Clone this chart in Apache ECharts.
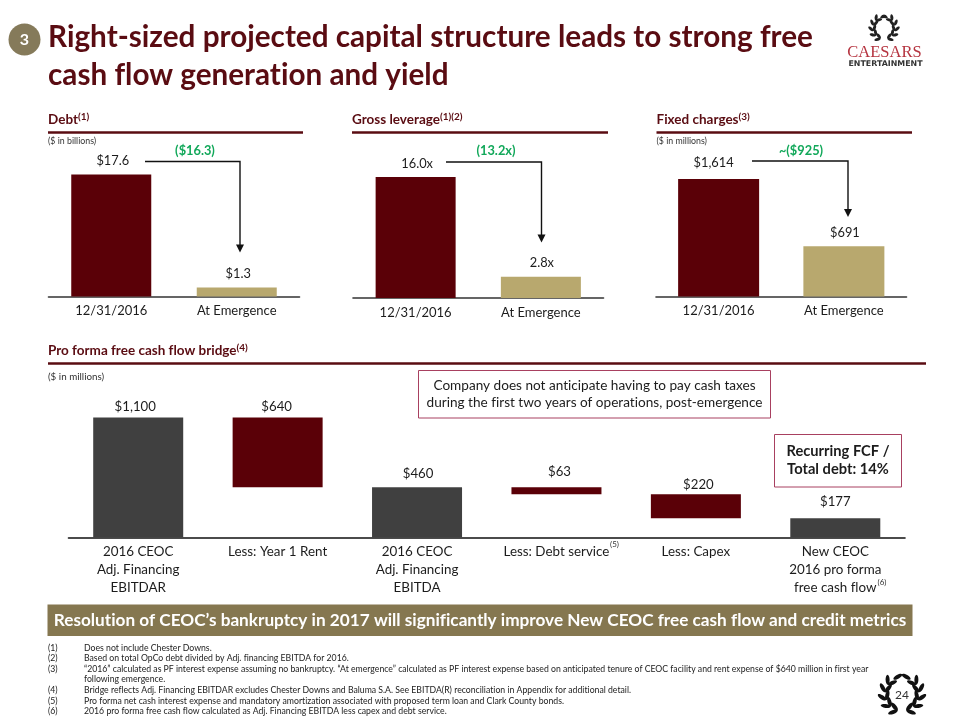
<!DOCTYPE html>
<html>
<head>
<meta charset="utf-8">
<style>html,body{margin:0;padding:0;background:#fff}#c{width:960px;height:720px}</style>
<script src="https://cdn.jsdelivr.net/npm/echarts@6/dist/echarts.min.js"></script>
</head>
<body>
<div id="c"></div>
<script>
// ---- data ----
const panelCategories = ['12/31/2016', 'At Emergence'];
const debtValues = [17.6, 1.3];
const leverageValues = [16.0, 2.8];
const fixedChargeValues = [1614, 691];
const bridgeCategories = ['2016 CEOC\nAdj. Financing\nEBITDAR', 'Less: Year 1 Rent', '2016 CEOC\nAdj. Financing\nEBITDA', 'Less: Debt service', 'Less: Capex', 'New CEOC\n2016 pro forma\nfree cash flow'];
const bridgeValues = [1100, 640, 460, 63, 220, 177];
const bridgeBase = [0, 460, 0, 397, 177, 0];
const bridgeKinds = ['total', 'less', 'total', 'less', 'less', 'total'];
const footnoteMarks = ['(1)', '(2)', '(3)', '', '(4)', '(5)', '(6)'];
const footnoteTexts = [
  'Does not include Chester Downs.',
  'Based on total OpCo debt divided by Adj. financing EBITDA for 2016.',
  '\u201C2016\u201D calculated as PF interest expense assuming no bankruptcy. \u201CAt emergence\u201D calculated as PF interest expense based on anticipated tenure of CEOC facility and rent expense of $640 million in first year',
  'following emergence.',
  'Bridge reflects Adj. Financing EBITDAR excludes Chester Downs and Baluma S.A. See EBITDA(R) reconciliation in Appendix for additional detail.',
  'Pro forma net cash interest expense and mandatory amortization associated with proposed term loan and Clark County bonds.',
  '2016 pro forma free cash flow calculated as Adj. Financing EBITDA less capex and debt service.'
];

// Lato's "ti"/"fi" ligatures do not appear in the reference: turn them off on every canvas.
const origGetContext = HTMLCanvasElement.prototype.getContext;
HTMLCanvasElement.prototype.getContext = function () {
  const ctx = origGetContext.apply(this, arguments);
  if (ctx && 'textRendering' in ctx) ctx.textRendering = 'optimizeSpeed';
  return ctx;
};

// ---- style ----
const FONT = 'Lato, "Noto Sans", sans-serif';
const MAROON = '#5a0007', TAN = '#b8a86e', GREY = '#404040', BANNER = '#857750', INK = '#1c1c1c', TITLE = '#5a0c12', GREEN = '#12a85a', BOX = '#a84060';

function panel(i, left, width, baseline, height, max, values, fmt, barW, offsets) {
  return {
    grid: {left, width, top: baseline - height, height},
    xAxis: {type: 'category', gridIndex: i, data: panelCategories,
      axisTick: {show: false}, axisLine: {lineStyle: {color: '#333', width: 1.6}},
      axisLabel: {fontFamily: FONT, fontSize: 13, color: INK, margin: 8, interval: 0}},
    yAxis: {type: 'value', gridIndex: i, min: 0, max, show: false, splitLine: {show: false}},
    series: {type: 'bar', xAxisIndex: i, yAxisIndex: i, barWidth: barW,
      data: values.map((v, k) => ({value: v, itemStyle: {color: k === 0 ? MAROON : TAN},
        label: {offset: offsets[k]}})),
      label: {show: true, position: 'top', distance: 7, formatter: p => fmt(p.value), fontFamily: FONT, fontSize: 12.8, color: INK}}
  };
}
const panels = [
  panel(0, 48.5, 251, 296.5, 138.6, 20, debtValues, v => '$' + v.toFixed(1), 80, [[1.5, 0], [1.5, 0]]),
  panel(1, 353, 250.5, 298, 151.2, 20, leverageValues, v => v.toFixed(1) + 'x', 80, [[1.5, 0], [1, 0]]),
  panel(2, 656, 250.5, 296.5, 145.6, 2000, fixedChargeValues, v => '$' + v.toLocaleString('en-US'), 81, [[-5, -3], [1, 0]])
];

const bridgeOffsets = [[-3, 2.5], [-1, 2.5], [1, 0], [3, -2.5], [2.5, 4.5], [0, -3]];
const grids = panels.map(p => p.grid).concat([{left: 68.5, width: 836.5, top: 537.5 - 130.9, height: 130.9}]);
const xAxes = panels.map(p => p.xAxis).concat([{type: 'category', gridIndex: 3, data: bridgeCategories,
  axisTick: {show: false}, axisLine: {lineStyle: {color: '#111', width: 1.6}},
  axisLabel: {fontFamily: FONT, fontSize: 13.4, lineHeight: 18, color: INK, margin: 5, interval: 0, verticalAlign: 'top'}}]);
const yAxes = panels.map(p => p.yAxis).concat([{type: 'value', gridIndex: 3, min: 0, max: 1200, show: false, splitLine: {show: false}}]);
const series = panels.map(p => p.series).concat([
  {type: 'bar', xAxisIndex: 3, yAxisIndex: 3, stack: 'bridge', barWidth: 90, silent: true,
   itemStyle: {color: 'transparent'}, data: bridgeBase},
  {type: 'bar', xAxisIndex: 3, yAxisIndex: 3, stack: 'bridge', barWidth: 90,
   data: bridgeValues.map((v, k) => ({value: v, itemStyle: {color: bridgeKinds[k] === 'total' ? GREY : MAROON},
     label: {offset: bridgeOffsets[k]}})),
   label: {show: true, position: 'top', distance: 7, formatter: p => '$' + p.value.toLocaleString('en-US'), fontFamily: FONT, fontSize: 13.2, color: INK}}
]);

// ---- annotations ----
const g = [];
function txt(text, x, y, size, fill, weight, align, family) {
  g.push({type: 'text', silent: true, style: {text, x, y, fill, align: align || 'left', verticalAlign: 'middle',
    font: (weight || 'normal') + ' ' + size + 'px ' + (family || FONT)}});
}
function line(x1, y1, x2, y2, color, w) {
  g.push({type: 'line', silent: true, shape: {x1, y1, x2, y2}, style: {stroke: color, lineWidth: w}});
}
function header(label, sup, x, y, size, x2, ly) {
  g.push({type: 'text', silent: true, style: {text: '{b|' + label + '}{s|' + sup + '}', x, y, verticalAlign: 'middle', align: 'left',
    rich: {b: {fontFamily: FONT, fontWeight: 'bold', fontSize: size, fill: TITLE, color: TITLE},
           s: {fontFamily: FONT, fontWeight: 'bold', fontSize: size * 0.74, fill: TITLE, color: TITLE, padding: [0, 0, 7, 0]}}}});
  line(x, ly, x2, ly, TITLE, 2.4);
}
function arrow(x1, y, x2, y2) {
  g.push({type: 'polyline', silent: true, shape: {points: [[x1, y], [x2, y], [x2, y2 - 7]]}, style: {stroke: '#111', lineWidth: 1.4, fill: null}});
  g.push({type: 'polygon', silent: true, shape: {points: [[x2 - 4, y2 - 8], [x2 + 4, y2 - 8], [x2, y2]]}, style: {fill: '#111'}});
}
function laurel(cx, cy, r, from, to, n, len, wid, color) {
  [-1, 1].forEach(side => {
    for (let i = 0; i < n; i++) {
      const th = (from + (to - from) * i / (n - 1)) * Math.PI / 180;
      const px = cx + side * r * Math.sin(th), py = cy + r * Math.cos(th);
      const ta = Math.atan2(-r * Math.sin(th), side * r * Math.cos(th));
      (i === n - 1 ? [0] : [-0.6, 0.6]).forEach(d => {
        const a = ta + d;
        g.push({type: 'ellipse', silent: true, x: px + Math.cos(a) * len / 2, y: py + Math.sin(a) * len / 2, rotation: -a,
          shape: {cx: 0, cy: 0, rx: len / 2, ry: wid / 2}, style: {fill: color}});
      });
    }
  });
}

// title
g.push({type: 'circle', silent: true, shape: {cx: 24.5, cy: 39.5, r: 16}, style: {fill: '#857a5a'}});
txt('3', 24.5, 39.5, 16, '#fff', 'bold', 'center');
txt('Right-sized projected capital structure leads to strong free', 48, 37, 29.7, TITLE, 'bold');
txt('cash flow generation and yield', 48, 75, 29.7, TITLE, 'bold');

// logo
laurel(884, 28, 11, 18, 160, 6, 6.5, 3, '#222');
txt('CAESARS', 884.5, 53, 16.5, '#b5333f', 'normal', 'center', '"Liberation Serif", serif');
txt('ENTERTAINMENT', 885.5, 64, 7.9, '#333', 'bold', 'center', '"DejaVu Sans", sans-serif');

// section headers
header('Debt', '(1)', 48, 120, 13.5, 303, 132.5);
header('Gross leverage', '(1)(2)', 352, 120, 13.5, 608, 132.5);
header('Fixed charges', '(3)', 656.5, 120, 13.5, 912, 132.5);
header('Pro forma free cash flow bridge', '(4)', 48, 351, 13.5, 926, 363.5);
txt('($ in billions)', 48, 141.5, 8.8, '#333');
txt('($ in millions)', 656.5, 141.5, 8.8, '#333');
txt('($ in millions)', 48, 376.5, 9.8, '#333');

// change callouts
txt('($16.3)', 195, 150.5, 12.8, GREEN, 'bold', 'center');
txt('(13.2x)', 496, 150.5, 12.8, GREEN, 'bold', 'center');
txt('~($925)', 801, 150.5, 12.8, GREEN, 'bold', 'center');
arrow(145, 161.5, 240, 252.5);
arrow(446, 162, 541.5, 242.5);
arrow(752, 161, 848, 217);

// boxes
g.push({type: 'rect', silent: true, shape: {x: 418.5, y: 370.5, width: 352, height: 47.5}, style: {fill: '#fff', stroke: BOX, lineWidth: 1}});
txt('Company does not anticipate having to pay cash taxes', 594.5, 386, 13.6, INK, 'normal', 'center');
txt('during the first two years of operations, post-emergence', 594.5, 403, 13.6, INK, 'normal', 'center');
g.push({type: 'rect', silent: true, shape: {x: 774.5, y: 434.5, width: 127, height: 52.5}, style: {fill: '#fff', stroke: BOX, lineWidth: 1}});
txt('Recurring FCF /', 838, 451.5, 14.7, INK, 'bold', 'center');
txt('Total debt: 14%', 838, 469.5, 14.7, INK, 'bold', 'center');

// axis superscripts
txt('(5)', 614.5, 544, 8, '#333', 'normal', 'center');
txt('(6)', 882, 582, 8, '#333', 'normal', 'center');

// banner
g.push({type: 'rect', silent: true, shape: {x: 47.5, y: 604.5, width: 865, height: 31.5}, style: {fill: BANNER}});
txt('Resolution of CEOC\u2019s bankruptcy in 2017 will significantly improve New CEOC free cash flow and credit metrics', 480, 620.5, 17.2, '#fff', 'bold', 'center');

// footnotes
footnoteTexts.forEach((t, i) => {
  const y = 648 + i * 10.55;
  if (footnoteMarks[i]) txt(footnoteMarks[i], 48, y, 8.7, '#222');
  txt(t, 84, y, 8.7, '#222');
});

// page number
laurel(902, 694, 17, 15, 150, 6, 10, 4, '#111');
txt('24', 902, 695, 12, '#333', 'normal', 'center');

const chart = echarts.init(document.getElementById('c'), null, {renderer: 'canvas'});
chart.setOption({
  animation: false, backgroundColor: '#fff',
  grid: grids, xAxis: xAxes, yAxis: yAxes, series,
  graphic: {elements: g}
});
</script>
</body>
</html>
